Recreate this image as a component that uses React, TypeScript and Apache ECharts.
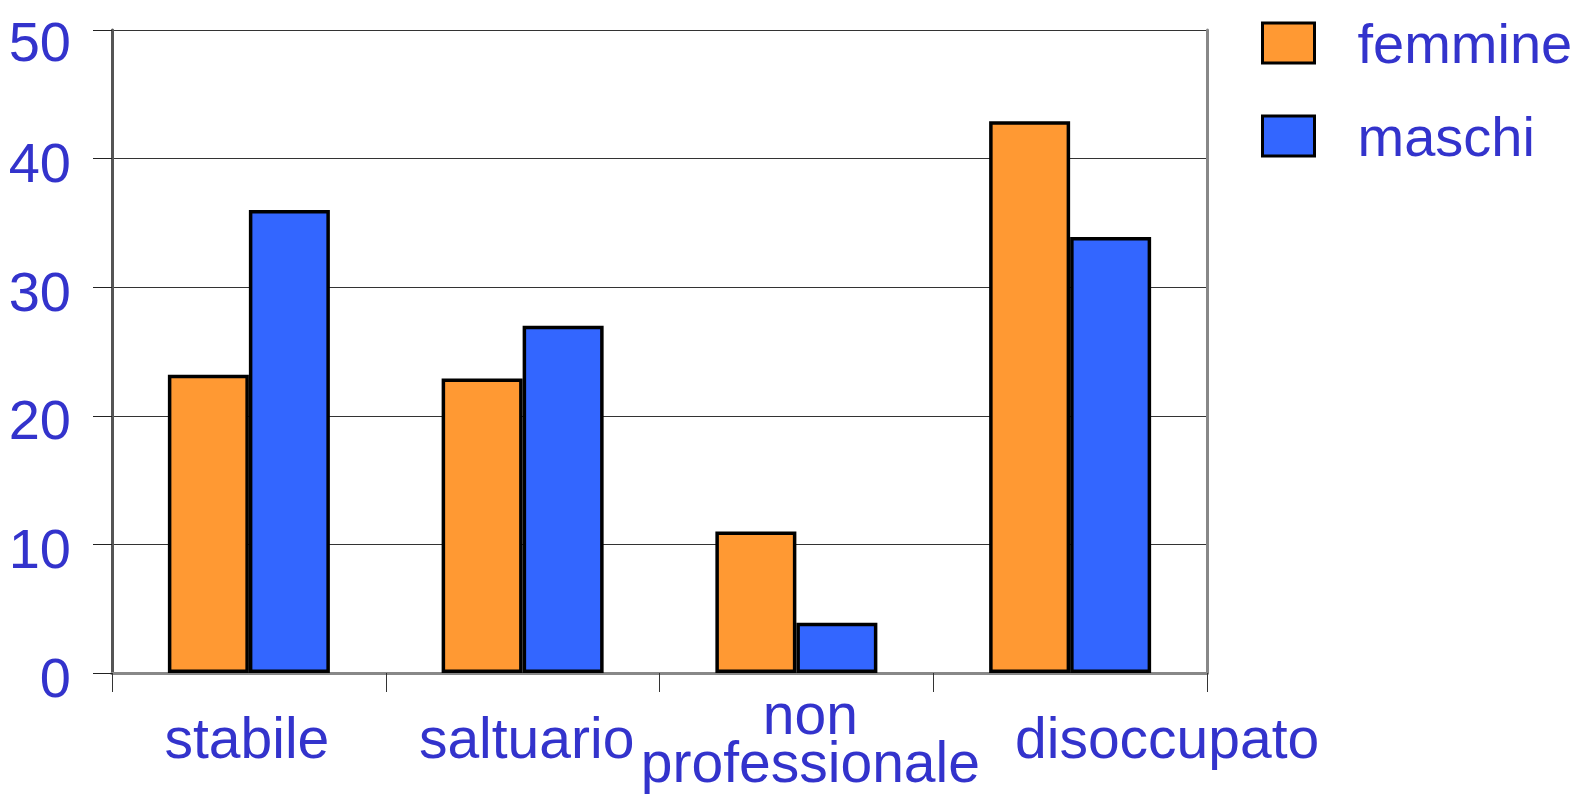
import React, { useEffect, useRef } from "react";
import * as echarts from "echarts";

const categories = ["stabile", "saltuario", "non\nprofessionale", "disoccupato"];
const femmine = [23.2, 22.9, 11.0, 42.9];
const maschi = [36.0, 27.0, 3.9, 33.9];
const seriesNames = ["femmine", "maschi"];
const yMin = 0;
const yMax = 50;
const yStep = 10;

const FONT = "'Liberation Sans', Arial, sans-serif";
const TEXT = "#3333CC";

// horizontal padding of each category label, as in the reference layout
const labelPads: number[][] = [
  [0, 4, 0, 0],
  [0, 0, 0, 8],
  [0, 0, 0, 28],
  [0, 0, 0, 194],
];

export default function App() {
  const ref = useRef<HTMLDivElement>(null);
  useEffect(() => {
    if (!ref.current) return;
    const chart = echarts.init(ref.current, null, { renderer: "svg" });
    const rich: Record<string, any> = {};
    labelPads.forEach((p, i) => {
      rich["c" + i] = {
        fontFamily: FONT,
        fontSize: 57,
        color: TEXT,
        lineHeight: 48,
        padding: p,
      };
    });
    chart.setOption({
      animation: false,
      backgroundColor: "#fff",
      grid: { left: 112, top: 30, right: 372, bottom: 131, containLabel: false },
      legend: {
        orient: "vertical",
        left: 1256,
        top: 10,
        itemWidth: 52,
        itemHeight: 40,
        itemGap: 37,
        icon: "rect",
        itemStyle: { borderColor: "#000", borderWidth: 3 },
        textStyle: {
          fontFamily: FONT,
          fontSize: 56,
          color: TEXT,
          lineHeight: 40,
          padding: [0, 0, 0, 38],
        },
        data: seriesNames,
      },
      xAxis: [
        {
          type: "category",
          data: categories,
          axisLine: { show: true, lineStyle: { color: "#777", width: 3 } },
          axisTick: { show: true, length: 19, lineStyle: { color: "#333", width: 1 } },
          axisLabel: {
            fontFamily: FONT,
            fontSize: 57,
            color: TEXT,
            lineHeight: 48,
            verticalAlign: "middle",
            margin: 65,
            interval: 0,
            formatter: (v: string, i: number) => `{c${i}|${v}}`,
            rich,
          },
          splitLine: { show: false },
        },
        {
          type: "category",
          position: "top",
          data: categories,
          axisLine: { show: true, lineStyle: { color: "#888", width: 3 } },
          axisTick: { show: false },
          axisLabel: { show: false },
        },
      ],
      yAxis: [
        {
          type: "value",
          min: yMin,
          max: yMax,
          interval: yStep,
          axisLine: { show: true, lineStyle: { color: "#555", width: 3 } },
          axisTick: { show: true, length: 19, lineStyle: { color: "#222", width: 1 } },
          axisLabel: {
            fontFamily: FONT,
            fontSize: 56,
            color: TEXT,
            margin: 41,
            verticalAlign: "middle",
            padding: [8, 0, 0, 0],
            formatter: (v: number) => (v === yMax ? `{top|${v}}` : `${v}`),
            rich: {
              top: {
                fontFamily: FONT,
                fontSize: 56,
                color: TEXT,
                padding: [14, 0, 0, 0],
              },
            },
          },
          splitLine: { show: true, lineStyle: { color: "#333", width: 1 } },
        },
        {
          type: "value",
          position: "right",
          min: yMin,
          max: yMax,
          interval: yStep,
          axisLine: { show: true, lineStyle: { color: "#888", width: 3 } },
          axisTick: { show: false },
          axisLabel: { show: false },
          splitLine: { show: false },
        },
      ],
      series: [
        {
          name: seriesNames[0],
          type: "bar",
          data: femmine,
          barWidth: 81,
          barGap: "0%",
          itemStyle: { color: "#FF9933", borderColor: "#000", borderWidth: 3.5 },
        },
        {
          name: seriesNames[1],
          type: "bar",
          data: maschi,
          barWidth: 81,
          barGap: "0%",
          itemStyle: { color: "#3366FF", borderColor: "#000", borderWidth: 3.5 },
        },
      ],
    });
    return () => chart.dispose();
  }, []);
  return (
    <div
      ref={ref}
      style={{ position: "fixed", left: 0, top: 0, width: 1579, height: 804 }}
    />
  );
}
